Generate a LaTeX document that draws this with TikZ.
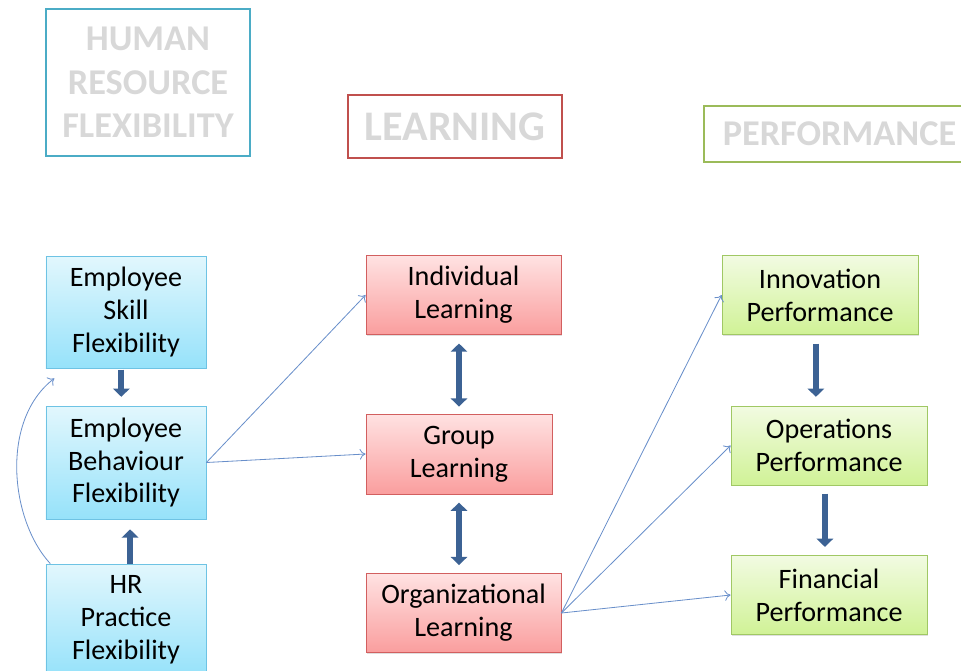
\documentclass[tikz,border=0pt]{standalone}
\usepackage{fontspec}
\setmainfont{Carlito}
\usepackage{tikz}
\usetikzlibrary{arrows.meta,shadows}

\definecolor{hrblue}{RGB}{75,172,198}
\definecolor{lnred}{RGB}{192,80,77}
\definecolor{pfgreen}{RGB}{155,187,89}
\definecolor{headgray}{RGB}{216,216,216}
\definecolor{bigarrow}{RGB}{60,98,148}
\definecolor{thinarrow}{RGB}{105,143,202}
\definecolor{blueTop}{RGB}{226,247,253}
\definecolor{blueBot}{RGB}{150,226,250}
\definecolor{blueLine}{RGB}{110,195,228}
\definecolor{redTop}{RGB}{255,226,226}
\definecolor{redBot}{RGB}{250,158,158}
\definecolor{redLine}{RGB}{210,95,95}
\definecolor{greenTop}{RGB}{242,251,226}
\definecolor{greenBot}{RGB}{208,242,150}
\definecolor{greenLine}{RGB}{160,200,100}

\begin{document}
\begin{tikzpicture}[x=0.03cm,y=-0.03cm,
	header/.style={draw,line width=2.4pt,text=headgray,font=\fontsize{31}{37}\selectfont\bfseries,align=center,inner sep=0pt},
	factor/.style={draw,line width=0.7pt,align=center,inner sep=0pt,font=\fontsize{24}{28}\selectfont,
		drop shadow={opacity=0.25,shadow xshift=1.2pt,shadow yshift=-1.2pt}},
	hrbox/.style={factor,draw=blueLine,top color=blueTop,bottom color=blueBot,minimum width=4.8cm},
	lnbox/.style={factor,draw=redLine,top color=redTop,bottom color=redBot,minimum height=2.36cm},
	pfbox/.style={factor,draw=greenLine,top color=greenTop,bottom color=greenBot,minimum width=5.88cm,minimum height=2.37cm},
	flow/.style={draw=bigarrow,line width=5pt,-{Triangle[width=14pt,length=7pt]}},
	flowboth/.style={flow,{Triangle[width=14pt,length=7pt]}-{Triangle[width=14pt,length=7pt]}},
	link/.style={draw=thinarrow,line width=0.7pt,-{To[length=5pt,width=9pt]}},
]

% frame %{{{2

	\useasboundingbox (0,0) rectangle (961,670);
	\clip (0,0) rectangle (961,670);

% headers %{{{2

	\node[header,draw=hrblue,minimum width=6.12cm,minimum height=4.41cm] (hrhead) at (148,82.5) {HUMAN\\RESOURCE\\FLEXIBILITY};
	\node[header,draw=lnred,minimum width=6.42cm,minimum height=1.89cm,font=\fontsize{36}{40}\selectfont\bfseries] (lnhead) at (455,126.5) {LEARNING};
	\node[header,draw=pfgreen,minimum width=8.13cm,minimum height=1.68cm] (pfhead) at (839.5,134) {PERFORMANCE};

% flexibility %{{{2

	\node[hrbox,minimum height=3.36cm] (skill) at (126,312) {Employee\\Skill\\Flexibility};
	\node[hrbox,minimum height=3.39cm] (behav) at (126,462.5) {Employee\\Behaviour\\Flexibility};
	\node[hrbox,minimum height=3.36cm] (practice) at (126,620) {HR\\Practice\\Flexibility};

% learning %{{{2

	\node[lnbox,minimum width=5.85cm] (indiv) at (463.5,295) {Individual\\Learning};
	\node[lnbox,minimum width=5.58cm,minimum height=2.4cm] (group) at (459,454) {Group\\Learning};
	\node[lnbox,minimum width=5.85cm] (org) at (463.5,613) {Organizational\\Learning};

% performance %{{{2

	\node[pfbox] (innov) at (820,295) {Innovation\\Performance};
	\node[pfbox] (ops) at (829,445.5) {Operations\\Performance};
	\node[pfbox] (fin) at (829,595) {Financial\\Performance};

% thick arrows %{{{2

	\draw[flow,shorten <=1pt,shorten >=7.5pt] ([xshift=-4pt]skill.south) -- ([xshift=-4pt]behav.north);
	\draw[flow,shorten >=8.5pt] ([xshift=3.5pt]practice.north) -- ([xshift=3.5pt]behav.south);
	\draw[flowboth,shorten <=7.5pt,shorten >=6pt] (indiv.south -| group.center) -- (group.north);
	\draw[flowboth,shorten <=7pt,shorten >=7pt] (group.south) -- (org.north -| group.center);
	\draw[flow,shorten <=7.5pt,shorten >=7.5pt] ([xshift=-3.5pt]innov.south) -- ([xshift=-3.5pt]innov.south |- ops.north);
	\draw[flow,shorten <=7pt,shorten >=7pt] ([xshift=-3.5pt]ops.south) -- ([xshift=-3.5pt]fin.north);

% thin arrows %{{{2

	\draw[link] (behav.east) -- (indiv.west);
	\draw[link] (behav.east) -- (group.west);
	\draw[link] (org.east) -- (innov.west);
	\draw[link] (org.east) -- (ops.west);
	\draw[link] (org.east) -- (fin.west);
	\coordinate (loopend) at ([xshift=7.5pt,yshift=-8.5pt]skill.south west);
	\draw[link] ([xshift=4pt]practice.north west) .. controls (10,520) and (0,420) .. (loopend);

% closing %{{{2

\end{tikzpicture}
\end{document}
